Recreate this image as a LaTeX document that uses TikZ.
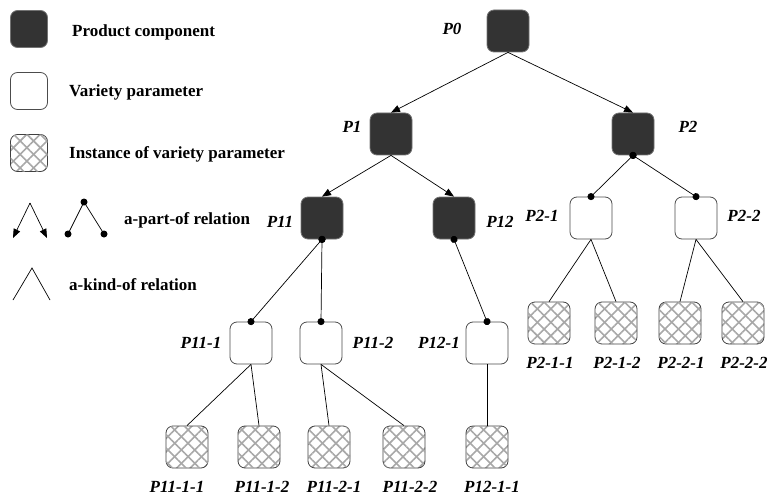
\documentclass[tikz,border=0pt]{standalone}
\usepackage{fontspec}
\setmainfont{Liberation Serif}[BoldFont={Liberation Serif Bold},ItalicFont={Liberation Serif Italic},BoldItalicFont={Liberation Serif Bold Italic}]
\usetikzlibrary{arrows.meta,patterns.meta}
\definecolor{compfill}{HTML}{333333}
\definecolor{hatch}{HTML}{A8A8A8}
\tikzset{
  box/.style={rectangle, rounded corners=7pt, minimum width=42pt, minimum height=42pt, inner sep=0pt, line width=0.8pt},
  comp/.style={box, fill=compfill, draw=black!55},
  var/.style={box, fill=white, draw=black!70},
  inst/.style={box, draw=black!75,
     pattern={Lines[angle=45,distance=9.5pt,line width=1.6pt]}, pattern color=hatch,
     postaction={pattern={Lines[angle=-45,distance=9.5pt,line width=1.6pt]}, pattern color=hatch}},
  lbl/.style={font=\fontsize{17}{20}\selectfont\bfseries\itshape, inner sep=0pt},
  legtxt/.style={font=\fontsize{17}{20}\selectfont\bfseries, inner sep=0pt, anchor=west},
  partof/.style={-{Triangle[length=9pt,width=7pt]}, line width=0.7pt},
  dotted edge/.style={{Circle[length=7pt]}-{Circle[length=7pt]}, shorten <=-3.5pt, shorten >=-3.5pt, line width=0.7pt},
  kindof/.style={line width=0.7pt},
}
\begin{document}
\begin{tikzpicture}[x=1pt,y=-1pt]
\useasboundingbox (0,0) rectangle (767,497);
% legend
\node[comp, minimum size=37pt] (Lc) at (29,29) {};
\node[legtxt] (Lct) at (72,32) {Product component};
\node[var, minimum size=37pt] (Lv) at (29,91) {};
\node[legtxt] (Lvt) at (69,92) {Variety parameter};
\node[inst, minimum size=37pt] (Li) at (29,153) {};
\node[legtxt] (Lit) at (69,154) {Instance of variety parameter};
\coordinate (La) at (30,203);
\coordinate (Lb) at (13,238);
\coordinate (Lc2) at (47,238);
\draw[partof] (La) -- (Lb);
\draw[partof] (La) -- (Lc2);
\coordinate (Da) at (84,202);
\coordinate (Db) at (68,234);
\coordinate (Dc) at (104,234);
\draw[kindof] (Db) -- (Da) -- (Dc);
\fill (Da) circle (3.5pt) (Db) circle (3.5pt) (Dc) circle (3.5pt);
\node[legtxt] (Lpt) at (124,220) {a-part-of relation};
\coordinate (Ka) at (32,268);
\coordinate (Kb) at (13,300);
\coordinate (Kc) at (50,300);
\draw[kindof] (Kb) -- (Ka) -- (Kc);
\node[legtxt] (Lkt) at (69,285) {a-kind-of relation};
% tree nodes
\node[comp] (P0) at (508,31) {};
\node[comp] (P1) at (391,134) {};
\node[comp] (P2) at (633,134) {};
\node[comp] (P11) at (322,218) {};
\node[comp] (P12) at (454,218) {};
\node[var] (P21) at (591,218) {};
\node[var] (P22) at (696,218) {};
\node[var] (P111) at (251,343) {};
\node[var] (P112) at (321,343) {};
\node[var] (P121) at (487,343) {};
\node[inst] (P211) at (549,323) {};
\node[inst] (P212) at (616,323) {};
\node[inst] (P221) at (680,323) {};
\node[inst] (P222) at (743,323) {};
\node[inst] (P1111) at (187,447) {};
\node[inst] (P1112) at (259,447) {};
\node[inst] (P1121) at (329,447) {};
\node[inst] (P1122) at (404,447) {};
\node[inst] (P1211) at (487,447) {};
% labels
\node[lbl] (tP0) at (452,29) {P0};
\node[lbl] (tP1) at (352,127) {P1};
\node[lbl] (tP2) at (688,127) {P2};
\node[lbl] (tP11) at (280,222) {P11};
\node[lbl] (tP12) at (500,222) {P12};
\node[lbl] (tP21) at (542,216) {P2-1};
\node[lbl] (tP22) at (744,216) {P2-2};
\node[lbl] (tP111) at (201,343) {P11-1};
\node[lbl] (tP112) at (373,343) {P11-2};
\node[lbl] (tP121) at (439,343) {P12-1};
\node[lbl] (tP211) at (550,363) {P2-1-1};
\node[lbl] (tP212) at (617,363) {P2-1-2};
\node[lbl] (tP221) at (681,363) {P2-2-1};
\node[lbl] (tP222) at (744,363) {P2-2-2};
\node[lbl] (tP1111) at (177,487) {P11-1-1};
\node[lbl] (tP1112) at (262,487) {P11-1-2};
\node[lbl] (tP1121) at (334,487) {P11-2-1};
\node[lbl] (tP1122) at (410,487) {P11-2-2};
\node[lbl] (tP1211) at (492,487) {P12-1-1};
% edges
\draw[partof] (P0.south) -- (P1.north);
\draw[partof] (P0.south) -- (P2.north);
\draw[partof] (P1.south) -- (P11.north);
\draw[partof] (P1.south) -- (P12.north);
\draw[dotted edge] (P2.south) -- (P21.north);
\draw[dotted edge] (P2.south) -- (P22.north);
\draw[dotted edge] (P11.south) -- (P111.north);
\draw[dotted edge] (P11.south) -- (P112.north);
\draw[dotted edge] (P12.south) -- (P121.north);
\draw[kindof] (P21.south) -- (P211.north);
\draw[kindof] (P21.south) -- (P212.north);
\draw[kindof] (P22.south) -- (P221.north);
\draw[kindof] (P22.south) -- (P222.north);
\draw[kindof] (P111.south) -- (P1111.north);
\draw[kindof] (P111.south) -- (P1112.north);
\draw[kindof] (P112.south) -- (P1121.north);
\draw[kindof] (P112.south) -- (P1122.north);
\draw[kindof] (P121.south) -- (P1211.north);
\end{tikzpicture}
\end{document}
